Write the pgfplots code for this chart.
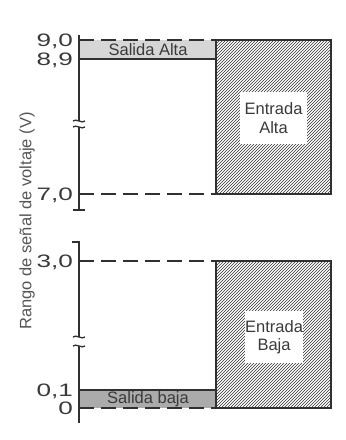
\documentclass[border=0pt]{standalone}
\usepackage{pgfplots}
\pgfplotsset{compat=1.18}
\usepackage{fontspec}
\setmainfont{Liberation Sans}
\newfontfamily\widefont[FakeStretch=1.45]{Liberation Sans}
\usetikzlibrary{patterns}
\definecolor{txt}{HTML}{3A3A3A}
\definecolor{lbl}{HTML}{555555}
\definecolor{ln}{HTML}{303030}
\definecolor{hiGray}{HTML}{D6D6D6}
\definecolor{loGray}{HTML}{ABABAB}
\tikzset{
  dashln/.style={ln, line width=1.3pt, dash pattern=on 15pt off 7pt},
  solidln/.style={ln, line width=1.3pt},
  hatchbox/.style={draw=ln, line width=1.3pt, pattern=north east lines, pattern color=ln},
  innerbox/.style={fill=white, align=center, text=txt, font=\fontsize{16.5}{18.5}\selectfont, inner sep=0pt},
}
\begin{document}
\begin{tikzpicture}
\path[use as bounding box] (0pt,0pt) rectangle (346pt,-440pt);
\pgfplotsset{panel/.style={
  scale only axis, width=252pt, xmin=79, xmax=331,
  axis x line=none, axis y line=left, y axis line style={draw=none},
  major tick length=0pt, clip=false, scaled y ticks=false,
  yticklabel style={font=\widefont\fontsize{18}{18}\selectfont, text=txt, inner sep=0pt,
    text height=13pt, text depth=0pt, xshift=-6pt},
}}
% ---------- top panel ----------
\begin{axis}[panel, at={(79pt,-210pt)}, anchor=south west, height=175pt,
  y coord trafo/.code={\pgfmathparse{ifthenelse(#1<8.9,(#1-7)*71.0526,135+(#1-8.9)*190)}},
  y coord inv trafo/.code={\pgfmathparse{ifthenelse(#1<135,7+#1/71.0526,8.9+(#1-135)/190)}},
  ymin=6.7748, ymax=9.0263,
  ytick={7.0,8.9,9.0}, yticklabels={{7,0},{8,9},{9,0}}]
\addplot[fill=hiGray, draw=none] coordinates {(79,8.9) (216,8.9) (216,9.0) (79,9.0)} -- cycle;
\addplot[hatchbox] coordinates {(216,7.0) (331,7.0) (331,9.0) (216,9.0)} -- cycle;
\addplot[dashln] coordinates {(79,9.0) (216,9.0)};
\addplot[dashln] coordinates {(79,7.0) (216,7.0)};
\addplot[solidln] coordinates {(79,8.9) (216,8.9)};
\node[text=txt, font=\fontsize{16.5}{16.5}\selectfont] at (rel axis cs:0.274,0.914) {Salida Alta};
\node[innerbox, minimum width=67pt, minimum height=52pt] at (rel axis cs:0.772,0.526) {Entrada\\Alta};
\end{axis}
% ---------- bottom panel ----------
\begin{axis}[panel, at={(79pt,-423pt)}, anchor=south west, height=181pt,
  y coord trafo/.code={\pgfmathparse{ifthenelse(#1<0.1,#1*180,18+(#1-0.1)*44.4828)}},
  y coord inv trafo/.code={\pgfmathparse{ifthenelse(#1<18,#1/180,0.1+(#1-18)/44.4828)}},
  ymin=-0.08333, ymax=3.42713,
  ytick={0,0.1,3.0}, yticklabels={{0},{0,1},{3,0}}]
\addplot[fill=loGray, draw=none] coordinates {(79,0) (216,0) (216,0.1) (79,0.1)} -- cycle;
\addplot[hatchbox] coordinates {(216,0) (331,0) (331,3.0) (216,3.0)} -- cycle;
\addplot[dashln] coordinates {(79,3.0) (216,3.0)};
\addplot[dashln] coordinates {(79,0) (216,0)};
\addplot[solidln] coordinates {(79,0.1) (216,0.1)};
\node[text=txt, font=\fontsize{16.5}{16.5}\selectfont] at (rel axis cs:0.274,0.1326) {Salida baja};
\node[innerbox, minimum width=58pt, minimum height=52pt] at (rel axis cs:0.774,0.475) {Entrada\\Baja};
\end{axis}
% ---------- broken axis lines ----------
\begin{scope}[ln, line width=1.3pt]
\draw (79pt,-35pt) -- (79pt,-121pt);
\draw (79pt,-127pt) -- (79pt,-210pt);
\draw (73pt,-121pt) .. controls (76pt,-118pt) and (82pt,-124pt) .. (85pt,-121pt);
\draw (73pt,-127pt) .. controls (76pt,-124pt) and (82pt,-130pt) .. (85pt,-127pt);
\draw (73pt,-210pt) -- (85pt,-210pt);
\draw (72pt,-242pt) -- (80pt,-242pt);
\draw (79pt,-242pt) -- (79pt,-337pt);
\draw (79pt,-346pt) -- (79pt,-423pt);
\draw (73pt,-337pt) .. controls (76pt,-334pt) and (82pt,-340pt) .. (85pt,-337pt);
\draw (73pt,-346pt) .. controls (76pt,-343pt) and (82pt,-349pt) .. (85pt,-346pt);
\end{scope}
\node[rotate=90, text=lbl, font=\fontsize{16.5}{16.5}\selectfont] at (27pt,-221pt) {Rango de señal de voltaje (V)};
\end{tikzpicture}
\end{document}
